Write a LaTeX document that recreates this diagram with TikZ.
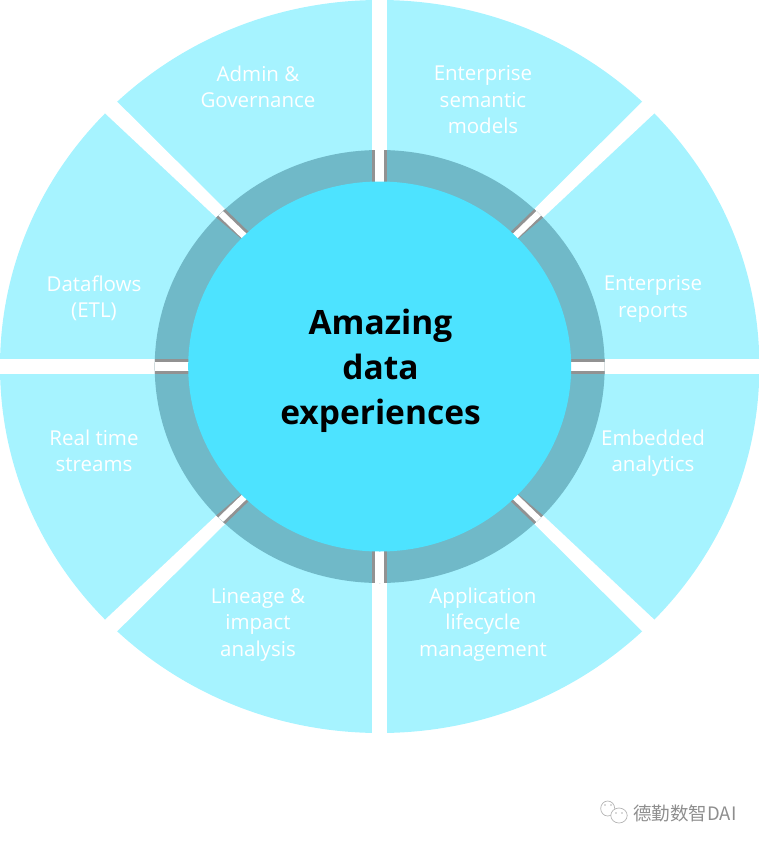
\documentclass[tikz,border=0pt]{standalone}
\usepackage{fontspec}
\usetikzlibrary{calc}
\setmainfont{Open Sans}
\newfontfamily\cjkwm{Noto Sans CJK SC}
\definecolor{petal}{HTML}{A6F3FF}
\definecolor{ringc}{HTML}{70B9C8}
\definecolor{corec}{HTML}{4DE3FF}
\definecolor{stripe}{HTML}{929292}
\definecolor{wm}{HTML}{8E8E8E}
\definecolor{wmicon}{HTML}{B5B5B5}
\tikzset{
  x=1pt,y=-1pt,
  lab/.style={text=white,align=center,font=\fontsize{20.5}{26.5}\selectfont,inner sep=0pt},
  mainlab/.style={text=black,align=center,font=\fontsize{33.5}{45}\selectfont\bfseries,inner sep=0pt},
  gapouter/.style={white,line width=15pt},
  gapgray/.style={stripe,line width=15pt},
  gapinner/.style={white,line width=9pt},
  diaginner/.style={white,line width=6.5pt},
  bubble/.style={wmicon,line width=.7pt,fill=white},
}
\newcommand{\diagwedge}{(-272,-274.2) -- (-284.7,-262.6) -- (-163.7,-149.2) -- (-100,-95) -- (-95,-100) -- (-154.7,-157.5) -- cycle}
\begin{document}
\begin{tikzpicture}
\useasboundingbox (0,0) rectangle (759,846);
\coordinate (c) at (379.7,366.5);
\coordinate (t) at (379.7,-5);
\coordinate (b) at (379.7,740);
\coordinate (l) at (-5,366.5);
\coordinate (r) at (765,366.5);
% ends of the diagonal gaps, on the mid lines of the wedges
\coordinate (tl) at (220.5,213.15);
\coordinate (tr) at (538.9,213.15);
\coordinate (bl) at (220.5,519.85);
\coordinate (br) at (538.9,519.85);
\fill[petal] (c) ellipse [x radius=379.7,y radius=366.5];
\foreach \p in {t,b,l,r}{\draw[gapouter] (c) -- (\p);}
\foreach \sx/\sy in {1/1,-1/1,1/-1,-1/-1}{
  \fill[white,shift={(c)},xscale=\sx,yscale=\sy] \diagwedge;
}
\fill[ringc] (c) ellipse [x radius=225,y radius=216.5];
\begin{scope}
\clip (c) ellipse [x radius=225,y radius=216.5];
\foreach \p in {t,b,l,r}{\draw[gapgray] (c) -- (\p);}
\foreach \sx/\sy in {1/1,-1/1,1/-1,-1/-1}{
  \fill[stripe,shift={(c)},xscale=\sx,yscale=\sy] \diagwedge;
}
\foreach \p in {t,b,l,r}{\draw[gapinner] (c) -- (\p);}
\foreach \p in {tl,tr,bl,br}{\draw[diaginner] (c) -- ($(c)!1.5!(\p)$);}
\end{scope}
\fill[corec] (c) ellipse [x radius=191.5,y radius=185];
\node[mainlab] (main) at (380.5,371) {Amazing\\data\\experiences};
\node[lab] (n1) at (258,87) {Admin \&\\Governance};
\node[lab] (n2) at (483,100) {Enterprise\\semantic\\models};
\node[lab] (n3) at (653,299) {Enterprise\\reports};
\node[lab] (n4) at (653,453) {Embedded\\analytics};
\node[lab] (n5) at (483,624.5) {Application\\lifecycle\\management};
\node[lab] (n6) at (258,624.5) {Lineage \&\\impact\\analysis};
\node[lab] (n7) at (94,451) {Real time\\streams};
\node[lab] (n8) at (94,298.5) {Dataflows\\(ETL)};
\node[text=wm,inner sep=0pt,font=\cjkwm\fontsize{18.5}{18.5}\selectfont] (wmt) at (685,813) {德勤数智DAI};
\draw[bubble] (607.7,808.5) ellipse [x radius=7,y radius=7.5];
\draw[bubble] (619,815.5) ellipse [x radius=8.2,y radius=7.5];
\fill[wmicon] (605,805) circle (.9) (611,805) circle (.9) (616,813) circle (.9) (622,813) circle (.9);
\end{tikzpicture}
\end{document}
